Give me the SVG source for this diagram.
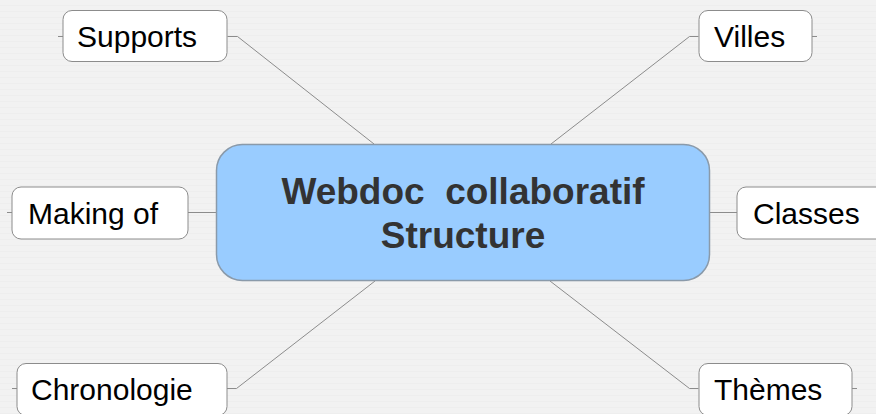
<svg xmlns="http://www.w3.org/2000/svg" width="876" height="414" viewBox="0 0 876 414">
<defs>
<pattern id="bg" width="8" height="6" patternUnits="userSpaceOnUse">
<rect width="8" height="6" fill="#f2f2f2"/>
<rect y="5" width="8" height="1" fill="#eeeeee"/>
</pattern>
</defs>
<style>
.node rect{fill:#ffffff;stroke:#8c8c8c;stroke-width:1}
.node text{font-family:"Liberation Sans",Arial,sans-serif;font-size:30px;fill:#000000}
.conn path{fill:none;stroke:#8c8c8c;stroke-width:1}
#center rect{fill:#99ccff;stroke:#8a9aaa;stroke-width:1.5}
#center text{font-family:"Liberation Sans",Arial,sans-serif;font-size:37px;font-weight:bold;fill:#333333;text-anchor:middle;white-space:pre}
</style>
<rect width="876" height="414" fill="url(#bg)"/>
<g id="connectors" class="conn">
<path d="M227.5,36.5 H237.5 L374,144"/>
<path d="M698.5,36.5 H689.5 L551,144"/>
<path d="M188,212.5 H216"/>
<path d="M710,212.5 H737"/>
<path d="M226.5,388.5 H236.5 L375,281"/>
<path d="M698.5,388.5 H689.5 L550,281"/>
<path d="M58,36.5 H63"/>
<path d="M812,36.5 H817"/>
<path d="M7,212.5 H12"/>
<path d="M12,388.5 H17"/>
<path d="M852,388.5 H857"/>
</g>
<g id="center">
<rect x="216.5" y="144.5" width="493" height="136" rx="26" ry="26"/>
<text x="463" y="204" xml:space="preserve">Webdoc  collaboratif</text>
<text x="463" y="248">Structure</text>
</g>
<g id="supports" class="node">
<rect x="63" y="10.5" width="164" height="51" rx="9"/>
<text x="77" y="46.5">Supports</text>
</g>
<g id="villes" class="node">
<rect x="699" y="10.5" width="113" height="51" rx="9"/>
<text x="714" y="46.5">Villes</text>
</g>
<g id="making" class="node">
<rect x="12" y="187" width="176" height="52" rx="9"/>
<text x="28" y="223.5">Making of</text>
</g>
<g id="classes" class="node">
<rect x="737" y="187" width="152" height="52" rx="9"/>
<text x="753" y="224">Classes</text>
</g>
<g id="chronologie" class="node">
<rect x="17" y="363.5" width="210" height="52" rx="9"/>
<text x="31" y="400">Chronologie</text>
</g>
<g id="themes" class="node">
<rect x="699" y="363.5" width="153" height="52" rx="9"/>
<text x="714" y="399.5">Thèmes</text>
</g>
</svg>
